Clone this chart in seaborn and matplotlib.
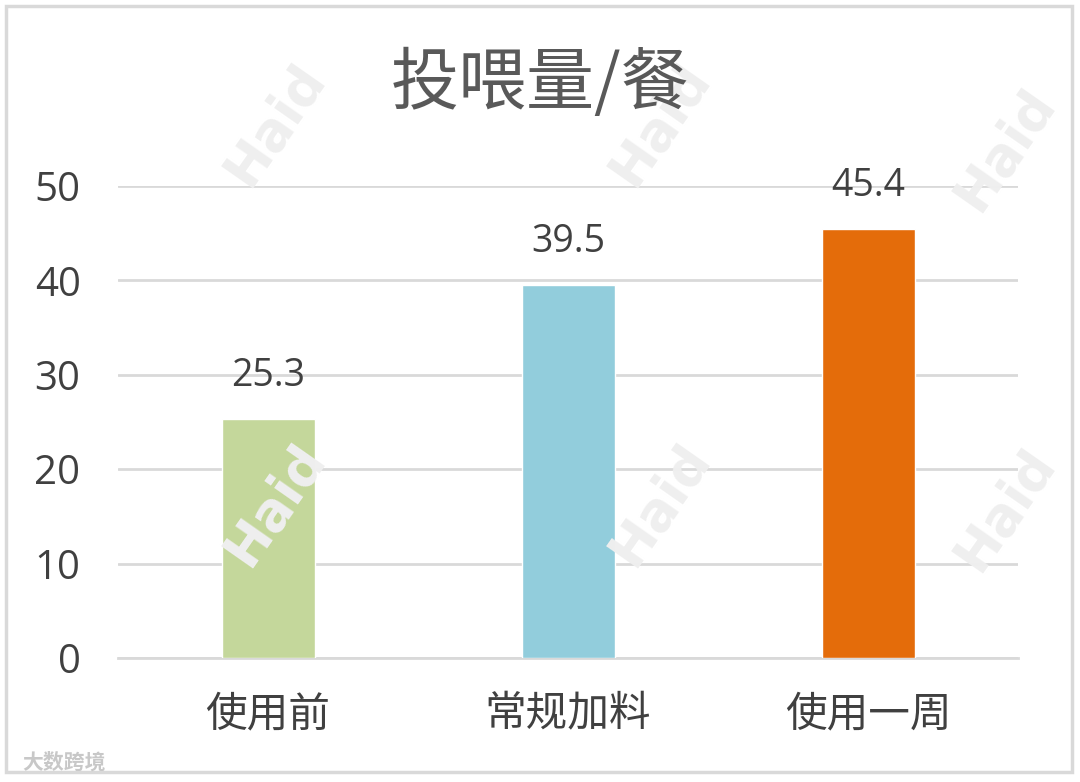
import matplotlib
matplotlib.use("Agg")
import matplotlib.pyplot as plt
from matplotlib.patches import Rectangle
import seaborn as sns
import pandas as pd

categories = ["使用前", "常规加料", "使用一周"]
values = [25.3, 39.5, 45.4]
bar_colors = ["#c4d79b", "#92cddc", "#e46c0a"]
y_ticks = [0, 10, 20, 30, 40, 50]
title = "投喂量/餐"

sns.set_theme(style="white")
plt.rcParams["font.family"] = ["Noto Sans CJK SC", "DejaVu Sans"]

df = pd.DataFrame({"cat": categories, "val": values})

fig = plt.figure(figsize=(10.8, 7.82), dpi=100)
ax = fig.add_axes([118 / 1080, 1 - 658 / 782, 900 / 1080, (658 - 186) / 782])

sns.barplot(data=df, x="cat", y="val", hue="cat", palette=bar_colors,
            width=0.31, legend=False, ax=ax, zorder=3, saturation=1)

ax.set_ylim(0, 50)
ax.set_xlim(-0.5, 2.5)
ax.set_yticks(y_ticks)
ax.set_yticklabels([str(t) for t in y_ticks], fontsize=29, color="#404040",
                   family=["Open Sans", "DejaVu Sans"])
ax.tick_params(axis="y", length=0, pad=27)
ax.tick_params(axis="x", length=0, pad=26, labelsize=30, labelcolor="#404040")
ax.set_xlabel("")
ax.set_ylabel("")
ax.grid(axis="y", color="#d9d9d9", linewidth=2, zorder=0)
ax.set_axisbelow(True)
for s in ["left", "right", "top"]:
    ax.spines[s].set_visible(False)
ax.spines["bottom"].set_color("#d9d9d9")
ax.spines["bottom"].set_linewidth(2)
ax.patch.set_alpha(0)

for i, v in enumerate(values):
    ax.annotate(f"{v:.1f}", (i, v), xytext=(0, 31), textcoords="offset points",
                ha="center", va="center", fontsize=27, color="#404040",
                family=["Open Sans", "DejaVu Sans"])

fig.text(0.5, 1 - 85 / 782, title, ha="center", va="center", fontsize=49,
         color="#595959", fontweight="medium")

# faint "Haid" marks across the background
for (px, py) in [(275, 125), (660, 125), (1005, 150), (275, 505), (660, 505), (1005, 510)]:
    fig.text(px / 1080, 1 - py / 782, "Haid", rotation=55, ha="center", va="center",
             fontsize=38, fontweight="bold", color="#efefef", zorder=0,
             family=["DejaVu Sans"])
fig.text(22 / 1080, 1 - 762 / 782, "大数跨境", ha="left", va="center",
         fontsize=15, color="#c8c8c8", fontweight="bold")

# chart frame
fig.patches.append(Rectangle((6 / 1080, 1 - 772 / 782), 1066 / 1080, 766 / 782,
                             transform=fig.transFigure, fill=False,
                             edgecolor="#d9d9d9", linewidth=2.5, zorder=0))

fig.savefig("out.png", dpi=100)
